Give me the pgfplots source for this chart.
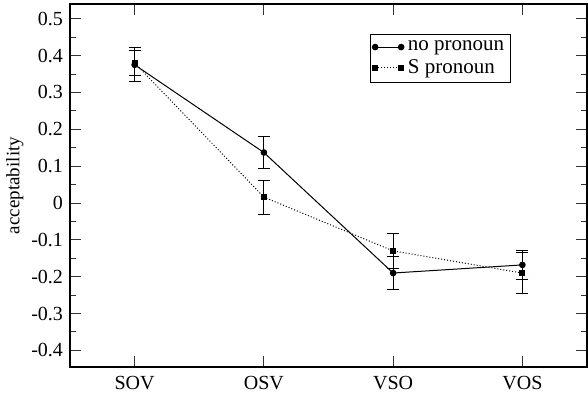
\documentclass[border=0pt]{standalone}
\usepackage{pgfplots}
\pgfplotsset{compat=1.18}
\usepackage{fontspec}
\setmainfont{Liberation Serif}

% Fehlerbalken: Mittelwert +- Fehler
\pgfplotstableread{
x   y       e
1   0.375   0.046
2   0.137   0.043
3  -0.190   0.046
4  -0.168   0.040
}\nopron
\pgfplotstableread{
x   y       e
1   0.380   0.035
2   0.016   0.046
3  -0.130   0.048
4  -0.190   0.055
}\spron

\begin{document}
\begin{tikzpicture}
\begin{axis}[
  name=ax,
  scale only axis,
  width=258.5pt, height=181.5pt,
  xmin=0.5, xmax=4.5,
  ymin=-0.445, ymax=0.54,
  xtick={1,2,3,4},
  xticklabels={SOV,OSV,VSO,VOS},
  ytick={-0.4,-0.3,...,0.51},
  minor y tick num=1,
  tick align=inside,
  major tick length=5.5pt,
  minor tick length=3pt,
  tick style={line width=0.5pt, black!80},
  axis line style={line width=1pt},
  yticklabel style={/pgf/number format/fixed, /pgf/number format/precision=1},
  /pgf/number format/assume math mode=true,
  ticklabel style={font=\fontsize{10}{12}\selectfont},
  xticklabel style={yshift=-1pt},
  ylabel={acceptability},
  ylabel style={font=\fontsize{9.5}{11}\selectfont, yshift=-3pt},
  legend style={at={(rel axis cs:0.58,0.917)}, anchor=north west,
    font=\fontsize{10.5}{12}\selectfont, draw=black, line width=0.5pt,
    inner sep=1pt, row sep=-1pt, cells={anchor=west}},
  legend image code/.code={\draw[#1] plot coordinates {(0pt,0pt) (13pt,0pt)};},
  error bars/error bar style={solid, line width=0.5pt, black},
  error bars/error mark options={rotate=90, mark size=3pt, solid, line width=0.5pt},
]
\addplot[black, line width=0.5pt, mark=*, mark size=1.4pt,
  error bars/.cd, y dir=both, y explicit]
  table[x=x, y=y, y error=e] {\nopron};
\addlegendentry{no pronoun}
\addplot[black, line width=0.5pt, densely dotted, mark=square*, mark size=1.3pt,
  mark options={solid},
  error bars/.cd, y dir=both, y explicit]
  table[x=x, y=y, y error=e] {\spron};
\addlegendentry{S pronoun}
\end{axis}
\pgfresetboundingbox
\path ([xshift=-35pt,yshift=-17pt]ax.south west) rectangle ([xshift=0.5pt,yshift=2pt]ax.north east);
\end{tikzpicture}
\end{document}
